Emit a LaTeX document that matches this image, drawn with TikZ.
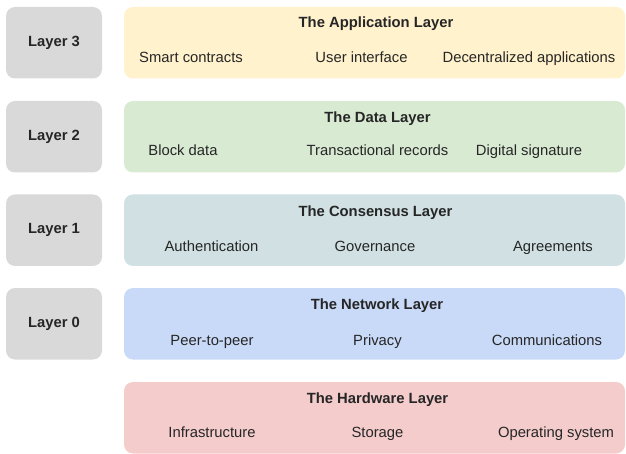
\documentclass[tikz,border=0pt]{standalone}
\usepackage{fontspec}
\setmainfont{Liberation Sans}
\definecolor{cGray}{HTML}{D9D9D9}
\definecolor{cYellow}{HTML}{FFF2CC}
\definecolor{cGreen}{HTML}{D9EAD3}
\definecolor{cTeal}{HTML}{D0E0E3}
\definecolor{cBlue}{HTML}{C9DAF8}
\definecolor{cRed}{HTML}{F4CCCC}
\begin{document}
\begin{tikzpicture}[x=1pt,y=-1pt,
  every node/.style={font=\fontsize{14.8}{17}\selectfont, text=black!85},
  labelbox/.style={fill=cGray, rounded corners=9pt, minimum width=96pt, minimum height=71.5pt, inner sep=0pt, font=\fontsize{14.8}{17}\selectfont\bfseries},
  layerbox/.style={rounded corners=9pt, minimum width=501pt, minimum height=71.5pt, inner sep=0pt},
  ttl/.style={anchor=base, inner sep=0pt, font=\fontsize{14.8}{17}\selectfont\bfseries},
  itm/.style={anchor=base, inner sep=0pt}]
\useasboundingbox (0,0) rectangle (626,454);
% rows: tops 7, 101, 194.5, 288, 382 ; height 71.5
\node[labelbox] (g3) at (54,42.75) {Layer 3};
\node[labelbox] (g2) at (54,136.75) {Layer 2};
\node[labelbox] (g1) at (54,230.25) {Layer 1};
\node[labelbox] (g0) at (54,323.75) {Layer 0};

\node[layerbox, fill=cYellow] (app) at (374.5,42.75) {};
\node[layerbox, fill=cGreen] (data) at (374.5,136.75) {};
\node[layerbox, fill=cTeal] (cons) at (374.5,230.25) {};
\node[layerbox, fill=cBlue] (net) at (374.5,323.75) {};
\node[layerbox, fill=cRed] (hw) at (374.5,417.75) {};

% Application layer
\node[ttl] (appT) at (376,28) {The Application Layer};
\node[itm] (app1) at (191,62.5) {Smart contracts};
\node[itm] (app2) at (361.5,62.5) {User interface};
\node[itm] (app3) at (529,62.5) {Decentralized applications};
% Data layer
\node[ttl] (dataT) at (377.5,123) {The Data Layer};
\node[itm] (data1) at (183,156) {Block data};
\node[itm] (data2) at (377.5,156) {Transactional records};
\node[itm] (data3) at (529,156) {Digital signature};
% Consensus layer
\node[ttl] (consT) at (375.5,216.5) {The Consensus Layer};
\node[itm] (cons1) at (211.5,252) {Authentication};
\node[itm] (cons2) at (375,252) {Governance};
\node[itm] (cons3) at (553,252) {Agreements};
% Network layer
\node[ttl] (netT) at (377,309.5) {The Network Layer};
\node[itm] (net1) at (212,345) {Peer-to-peer};
\node[itm] (net2) at (377.5,345) {Privacy};
\node[itm] (net3) at (547,345) {Communications};
% Hardware layer
\node[ttl] (hwT) at (377.5,403.5) {The Hardware Layer};
\node[itm] (hw1) at (212,437.5) {Infrastructure};
\node[itm] (hw2) at (377.5,437.5) {Storage};
\node[itm] (hw3) at (556,437.5) {Operating system};
\end{tikzpicture}
\end{document}
